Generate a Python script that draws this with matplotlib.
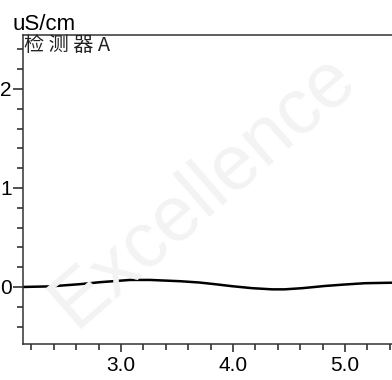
import numpy as np
import matplotlib
matplotlib.use("Agg")
import matplotlib.pyplot as plt
from matplotlib.ticker import MultipleLocator, FormatStrFormatter

plt.rcParams['font.family'] = ['Liberation Sans', 'Noto Sans CJK SC', 'DejaVu Sans']

# 电导信号 (min, uS/cm)
t_min = [2.125, 2.37, 2.63, 2.81, 3.08, 3.26, 3.53, 3.70, 3.84, 3.99,
         4.17, 4.35, 4.46, 4.62, 4.82, 5.00, 5.18, 5.42]
signal = [0.000, 0.006, 0.028, 0.048, 0.071, 0.071, 0.058, 0.045, 0.028, 0.008,
          -0.012, -0.024, -0.024, -0.012, 0.010, 0.025, 0.038, 0.043]

y_unit = "uS/cm"
detector = "检 测 器 A"
watermark = "Excellence"

fig = plt.figure(figsize=(3.92, 3.80), dpi=100)
fig.patch.set_facecolor("white")

# 背景水印
fig.text(0.52, 0.50, watermark, fontsize=56, color="#f3f3f3", rotation=41,
         ha="center", va="center", zorder=0)

ax = fig.add_axes([23/392, 1-344/380, 1-23/392, (344-35)/380])
ax.patch.set_alpha(0)
ax.plot(t_min, signal, color="black", lw=1.8, solid_capstyle="round")

ax.set_xlim(2.125, 5.42)
ax.set_ylim(-0.576, 2.545)

ax.xaxis.set_major_locator(MultipleLocator(1.0))
ax.xaxis.set_minor_locator(MultipleLocator(0.2))
ax.xaxis.set_major_formatter(FormatStrFormatter("%.1f"))
ax.yaxis.set_major_locator(MultipleLocator(1))
ax.yaxis.set_minor_locator(MultipleLocator(0.2))

ax.tick_params(axis="x", which="major", length=6, width=1.1, pad=2.5,
               labelsize=15, color="#222222")
ax.tick_params(axis="x", which="minor", length=4, width=1.1, color="#222222")
ax.tick_params(axis="y", which="major", length=7.5, width=1.1, pad=0.5,
               labelsize=15, color="#222222")
ax.tick_params(axis="y", which="minor", length=4.5, width=1.1, color="#222222")

ax.spines["right"].set_visible(False)
for s in ("left", "top", "bottom"):
    ax.spines[s].set_color("#333333")
    ax.spines[s].set_linewidth(1.1)

fig.text(13/392, 1-30/380, y_unit, fontsize=16, ha="left", va="baseline")
ax.text(0.004, 1.0, detector, transform=ax.transAxes, fontsize=14.5,
        ha="left", va="top", color="#222222",
        family=['Noto Sans CJK SC', 'Liberation Sans'])

fig.savefig("out.png", dpi=100)
